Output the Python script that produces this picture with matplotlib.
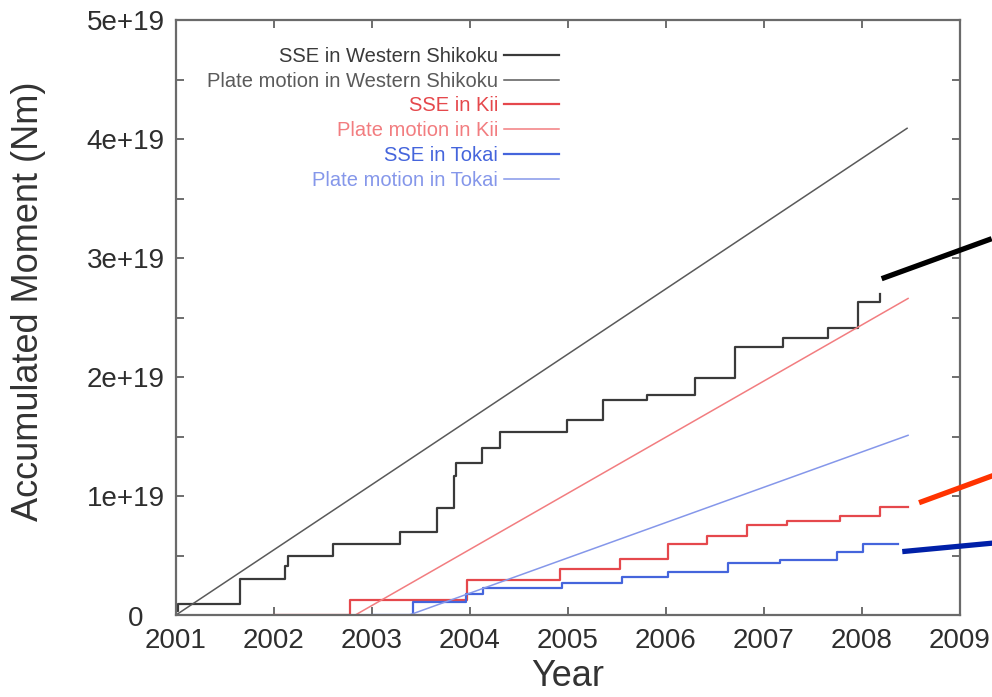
import matplotlib
matplotlib.use("Agg")
import matplotlib.pyplot as plt
from matplotlib.lines import Line2D
from matplotlib.transforms import IdentityTransform, ScaledTranslation
from matplotlib.ticker import MultipleLocator, FixedLocator

plt.rcParams['font.family'] = ['Liberation Sans', 'DejaVu Sans']

# Cumulative slow-slip-event moment (units of 1e19 Nm), step series
sse_shikoku_year = [2001.0, 2001.02, 2001.65, 2002.11, 2002.14, 2002.60, 2003.29,
                    2003.66, 2003.84, 2003.86, 2004.12, 2004.31, 2004.99, 2005.36,
                    2005.81, 2006.30, 2006.70, 2007.19, 2007.65, 2007.96, 2008.18]
sse_shikoku_moment = [0.03, 0.09, 0.30, 0.41, 0.50, 0.60, 0.70,
                      0.90, 1.17, 1.28, 1.40, 1.54, 1.64, 1.81,
                      1.85, 1.99, 2.25, 2.33, 2.41, 2.63, 2.70]

sse_kii_year = [2002.0, 2002.78, 2003.97, 2004.92, 2005.53, 2006.02, 2006.42,
                2006.83, 2007.23, 2007.78, 2008.18, 2008.47]
sse_kii_moment = [0.0, 0.13, 0.29, 0.39, 0.47, 0.60, 0.66,
                  0.76, 0.79, 0.83, 0.91, 0.91]

sse_tokai_year = [2003.0, 2003.42, 2003.96, 2004.13, 2004.94, 2005.55, 2006.02,
                  2006.63, 2007.16, 2007.74, 2008.01, 2008.37]
sse_tokai_moment = [0.0, 0.11, 0.18, 0.23, 0.27, 0.32, 0.36,
                    0.44, 0.46, 0.53, 0.60, 0.60]

# Moment accumulated by plate convergence (units of 1e19 Nm)
plate_shikoku_year = [2001.0, 2008.46]
plate_shikoku_moment = [0.0, 4.09]
plate_kii_year = [2002.83, 2008.47]
plate_kii_moment = [0.0, 2.66]
plate_tokai_year = [2003.38, 2008.47]
plate_tokai_moment = [0.0, 1.51]

SCALE = 1e19
xticks = list(range(2001, 2010))
yticks = [0, 1, 2, 3, 4, 5]
ytick_labels = ['0', '1e+19', '2e+19', '3e+19', '4e+19', '5e+19']

fig = plt.figure(figsize=(9.92, 6.97), dpi=100)
ax = fig.add_axes([176 / 992, 1 - 615 / 697, 784 / 992, 595 / 697])


def scaled(v):
    return [a * SCALE for a in v]


ax.step(sse_shikoku_year, scaled(sse_shikoku_moment), where='post',
        color='#3a3a3a', lw=1.6, label='SSE in Western Shikoku')
ax.plot(plate_shikoku_year, scaled(plate_shikoku_moment),
        color='#5a5a5a', lw=1.1, label='Plate motion in Western Shikoku')
ax.step(sse_kii_year, scaled(sse_kii_moment), where='post',
        color='#e5484c', lw=1.6, label='SSE in Kii')
ax.plot(plate_kii_year, scaled(plate_kii_moment),
        color='#f27d80', lw=1.1, label='Plate motion in Kii')
ax.step(sse_tokai_year, scaled(sse_tokai_moment), where='post',
        color='#4565dc', lw=1.6, label='SSE in Tokai')
ax.plot(plate_tokai_year, scaled(plate_tokai_moment),
        color='#8597ea', lw=1.1, label='Plate motion in Tokai')

ax.set_xlim(2001, 2009)
ax.set_ylim(0, 5 * SCALE)
ax.xaxis.set_major_locator(FixedLocator(xticks))
ax.set_xticklabels([str(t) for t in xticks])
ax.yaxis.set_major_locator(FixedLocator([t * SCALE for t in yticks]))
ax.set_yticklabels(ytick_labels)
ax.yaxis.set_minor_locator(MultipleLocator(0.5 * SCALE))

ax.tick_params(which='both', direction='in', top=True, right=True,
               color='#555555', width=1.2, length=6)
ax.tick_params(axis='x', labelsize=20, pad=9)
ax.tick_params(axis='y', labelsize=20, pad=8)
for lab in ax.get_xticklabels() + ax.get_yticklabels():
    lab.set_color('#2e2e2e')
# the zero label sits left of the corner, clear of the first year label
zero_lab = ax.get_yticklabels()[0]
zero_lab.set_transform(zero_lab.get_transform()
                       + ScaledTranslation(-0.22, -0.01, fig.dpi_scale_trans))
for sp in ax.spines.values():
    sp.set_color('#6a6a6a')
    sp.set_linewidth(1.6)

ax.set_xlabel('Year', fontsize=26, color='#333333', labelpad=4)
ax.set_ylabel('Accumulated Moment (Nm)', fontsize=26, color='#333333')
ax.yaxis.set_label_coords(-0.166, 0.527)

leg = ax.legend(loc='upper right', bbox_to_anchor=(0.488, 0.955),
                frameon=False, markerfirst=False, fontsize=14.5,
                handlelength=2.7, handletextpad=0.3, labelspacing=0.29,
                borderpad=0, borderaxespad=0, labelcolor='linecolor')

# Pointer lines leaving the right edge, anchored at each SSE series end (pixel offsets)
pointers = [
    (sse_shikoku_year[-1], sse_shikoku_moment[-1], (2, 15), (112, 55), '#000000'),
    (sse_kii_year[-1], sse_kii_moment[-1], (11, 4), (90, 33), '#ff3300'),
    (sse_tokai_year[-1], sse_tokai_moment[-1], (4, -8), (100, 1), '#0020a8'),
]
for xe, ye, (dx0, dy0), (dx1, dy1), col in pointers:
    px, py = ax.transData.transform((xe, ye * SCALE))
    fig.add_artist(Line2D([px + dx0, px + dx1], [py + dy0, py + dy1],
                          transform=IdentityTransform(), color=col,
                          lw=3.8, solid_capstyle='butt'))

fig.savefig('out.png', dpi=100)
